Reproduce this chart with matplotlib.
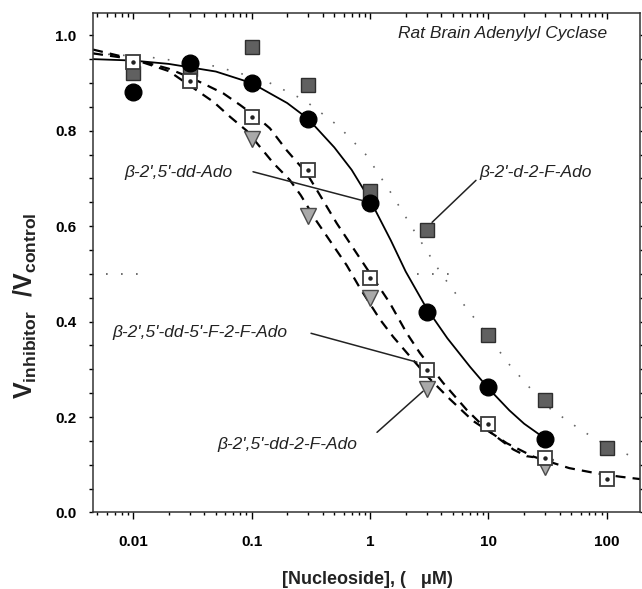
import matplotlib
matplotlib.use("Agg")
import matplotlib.pyplot as plt
from matplotlib.ticker import LogLocator, MultipleLocator, NullFormatter

plt.rcParams["font.family"] = ["Liberation Sans", "DejaVu Sans"]
plt.rcParams["mathtext.fontset"] = "custom"
plt.rcParams["mathtext.rm"] = "Liberation Sans:bold"
plt.rcParams["mathtext.bf"] = "Liberation Sans:bold"
plt.rcParams["mathtext.it"] = "Liberation Sans:bold"
plt.rcParams["mathtext.default"] = "bf"

# measured points (concentration in uM, V_inhibitor / V_control)
dd_ado_x = [0.01, 0.03, 0.1, 0.3, 1, 3, 10, 30]
dd_ado_y = [0.881, 0.941, 0.899, 0.824, 0.649, 0.421, 0.263, 0.154]

d2f_x = [0.01, 0.03, 0.1, 0.3, 1, 3, 10, 30, 100]
d2f_y = [0.920, 0.930, 0.976, 0.895, 0.674, 0.592, 0.372, 0.236, 0.135]

ff_x = [0.01, 0.03, 0.1, 0.3, 1, 3, 10, 30, 100]
ff_y = [0.944, 0.904, 0.829, 0.718, 0.492, 0.299, 0.186, 0.114, 0.071]

dd2f_x = [0.1, 0.3, 1, 3, 30]
dd2f_y = [0.782, 0.621, 0.449, 0.259, 0.096]

# fitted curves
fit_dd_ado_x = [0.0046, 0.01, 0.02, 0.05, 0.1, 0.2, 0.3, 0.5, 0.7, 1.0, 1.5, 2.0,
                3.0, 4.5, 7.0, 10, 15, 20, 30]
fit_dd_ado_y = [0.950, 0.947, 0.940, 0.924, 0.900, 0.858, 0.825, 0.765, 0.718, 0.655,
                0.570, 0.505, 0.428, 0.365, 0.305, 0.260, 0.214, 0.186, 0.155]

fit_dd2f_x = [0.0046, 0.01, 0.02, 0.03, 0.048, 0.066, 0.091, 0.118, 0.153, 0.21,
              0.26, 0.355, 0.636, 0.824, 1.21, 1.57, 2.04, 3.0, 4.7, 7.4, 14.3,
              24, 48, 82, 129, 190]
fit_dd2f_y = [0.970, 0.950, 0.925, 0.895, 0.860, 0.829, 0.800, 0.766, 0.732, 0.697,
              0.665, 0.610, 0.518, 0.470, 0.405, 0.368, 0.335, 0.287, 0.238, 0.192,
              0.145, 0.117, 0.093, 0.082, 0.075, 0.070]

fit_ff_x = [0.0046, 0.01, 0.02, 0.03, 0.039, 0.058, 0.080, 0.118, 0.143, 0.198,
            0.292, 0.378, 0.524, 0.772, 1.47, 2.04, 2.64, 4.13, 6.55, 9.66, 16.2,
            21, 24]
fit_ff_y = [0.962, 0.950, 0.930, 0.912, 0.899, 0.878, 0.854, 0.823, 0.805, 0.759,
            0.711, 0.665, 0.606, 0.543, 0.439, 0.376, 0.334, 0.272, 0.215, 0.174,
            0.132, 0.118, 0.116]

fit_d2f_x = [0.0046, 0.013, 0.05, 0.13, 0.28, 0.54, 0.93, 1.5, 2.5, 4.0, 6.0, 8.3,
             15, 30, 61, 100, 154, 190]
fit_d2f_y = [0.962, 0.955, 0.935, 0.905, 0.864, 0.810, 0.749, 0.670, 0.580, 0.500,
             0.440, 0.395, 0.310, 0.225, 0.172, 0.140, 0.120, 0.113]

half_left_x = [0.0059, 0.014]
half_right_x = [2.5, 5.8]

x_ticks = [0.01, 0.1, 1, 10, 100]
x_tick_labels = ["0.01", "0.1", "1", "10", "100"]
y_ticks = [0.0, 0.2, 0.4, 0.6, 0.8, 1.0]
y_tick_labels = ["0.0", "0.2", "0.4", "0.6", "0.8", "1.0"]

fig = plt.figure(figsize=(6.42, 5.89), dpi=100)
ax = fig.add_axes([0.1453, 0.1299, 0.8516, 0.8475])

# curves
ax.plot(fit_d2f_x, fit_d2f_y, color="#666666", lw=1.2, ls=(0, (1, 8)))
ax.plot(half_left_x, [0.5, 0.5], color="#555555", lw=1.2, ls=(0, (1, 8)))
ax.plot(half_right_x, [0.5, 0.5], color="#555555", lw=1.2, ls=(0, (1, 8)))
ax.plot(fit_dd_ado_x, fit_dd_ado_y, color="black", lw=1.3)
ax.plot(fit_dd2f_x, fit_dd2f_y, color="black", lw=1.6, ls=(0, (4.5, 3.2)))
ax.plot(fit_ff_x, fit_ff_y, color="black", lw=1.6, ls=(0, (4.5, 3.2)))

# symbols
ax.plot(d2f_x, d2f_y, ls="none", marker="s", ms=9.8, mfc="#606060", mec="#2e2e2e", mew=1.0)
ax.plot(dd_ado_x, dd_ado_y, ls="none", marker="o", ms=12, mfc="black", mec="black")
ax.plot(dd2f_x, dd2f_y, ls="none", marker="v", ms=11.5, mfc="#a9a9a9", mec="#4a4a4a", mew=1.0)
ax.plot(ff_x, ff_y, ls="none", marker="s", ms=9.8, mfc="white", mec="#3a3a3a", mew=1.3)
ax.plot(ff_x, ff_y, ls="none", marker="o", ms=2.2, mfc="#222222", mec="#222222")

ax.set_xscale("log")
ax.set_xlim(0.00462, 190)
ax.set_ylim(0, 1.046)

ax.set_xticks(x_ticks)
ax.set_xticklabels(x_tick_labels, fontsize=11, fontweight="bold")
ax.xaxis.set_minor_locator(LogLocator(base=10, subs=range(2, 10), numticks=20))
ax.xaxis.set_minor_formatter(NullFormatter())
ax.set_yticks(y_ticks)
ax.set_yticklabels(y_tick_labels, fontsize=11, fontweight="bold")
ax.yaxis.set_minor_locator(MultipleLocator(0.05))

ax.tick_params(axis="x", which="major", direction="out", length=5, width=1, pad=11)
ax.tick_params(axis="x", which="minor", direction="out", length=2.5, width=1)
ax.tick_params(axis="y", which="both", direction="out", length=3, width=1, pad=9,
               right=True)
for s in ax.spines.values():
    s.set_linewidth(1.1)
    s.set_color("#333333")

top = ax.twiny()
top.set_xscale("log")
top.set_xlim(ax.get_xlim())
top.set_xticks(x_ticks)
top.xaxis.set_minor_locator(LogLocator(base=10, subs=range(2, 10), numticks=20))
top.tick_params(axis="x", which="major", direction="in", length=4, width=1, labeltop=False)
top.tick_params(axis="x", which="minor", direction="in", length=3, width=1, labeltop=False)
top.xaxis.set_minor_formatter(NullFormatter())
for s in top.spines.values():
    s.set_visible(False)

# labels
lab = dict(fontsize=12.5, style="italic", color="#222222")
ax.text(101, 1.003, "Rat Brain Adenylyl Cyclase", ha="right", va="center", **lab)

ax.text(0.0698, 0.712, "β-2',5'-dd-Ado", ha="right", va="center", **lab)
ax.annotate("", xy=(0.856, 0.654), xytext=(0.103, 0.714),
            arrowprops=dict(arrowstyle="-", lw=1.1, color="#222222", shrinkA=0, shrinkB=0))

ax.text(8.32, 0.712, "β-2'-d-2-F-Ado", ha="left", va="center", **lab)
ax.annotate("", xy=(3.34, 0.608), xytext=(7.84, 0.696),
            arrowprops=dict(arrowstyle="-", lw=1.1, color="#222222", shrinkA=0, shrinkB=0))

ax.text(0.1995, 0.378, "β-2',5'-dd-5'-F-2-F-Ado", ha="right", va="center", **lab)
ax.annotate("", xy=(2.49, 0.315), xytext=(0.318, 0.3755),
            arrowprops=dict(arrowstyle="-", lw=1.1, color="#222222", shrinkA=0, shrinkB=0))

ax.text(0.786, 0.143, "β-2',5'-dd-2-F-Ado", ha="right", va="center", **lab)
ax.annotate("", xy=(2.80, 0.254), xytext=(1.146, 0.168),
            arrowprops=dict(arrowstyle="-", lw=1.1, color="#222222", shrinkA=0, shrinkB=0))

fig.text(0.572, 0.0153, "[Nucleoside], (   μM)", ha="center", va="center",
         fontsize=13, fontweight="bold", color="#222222")
fig.text(0.04, 0.48, r"$V_{inhibitor}\ \ /V_{control}$",
         rotation=90, ha="center", va="center", fontsize=18, color="#222222")

fig.savefig("out.png", dpi=100)
